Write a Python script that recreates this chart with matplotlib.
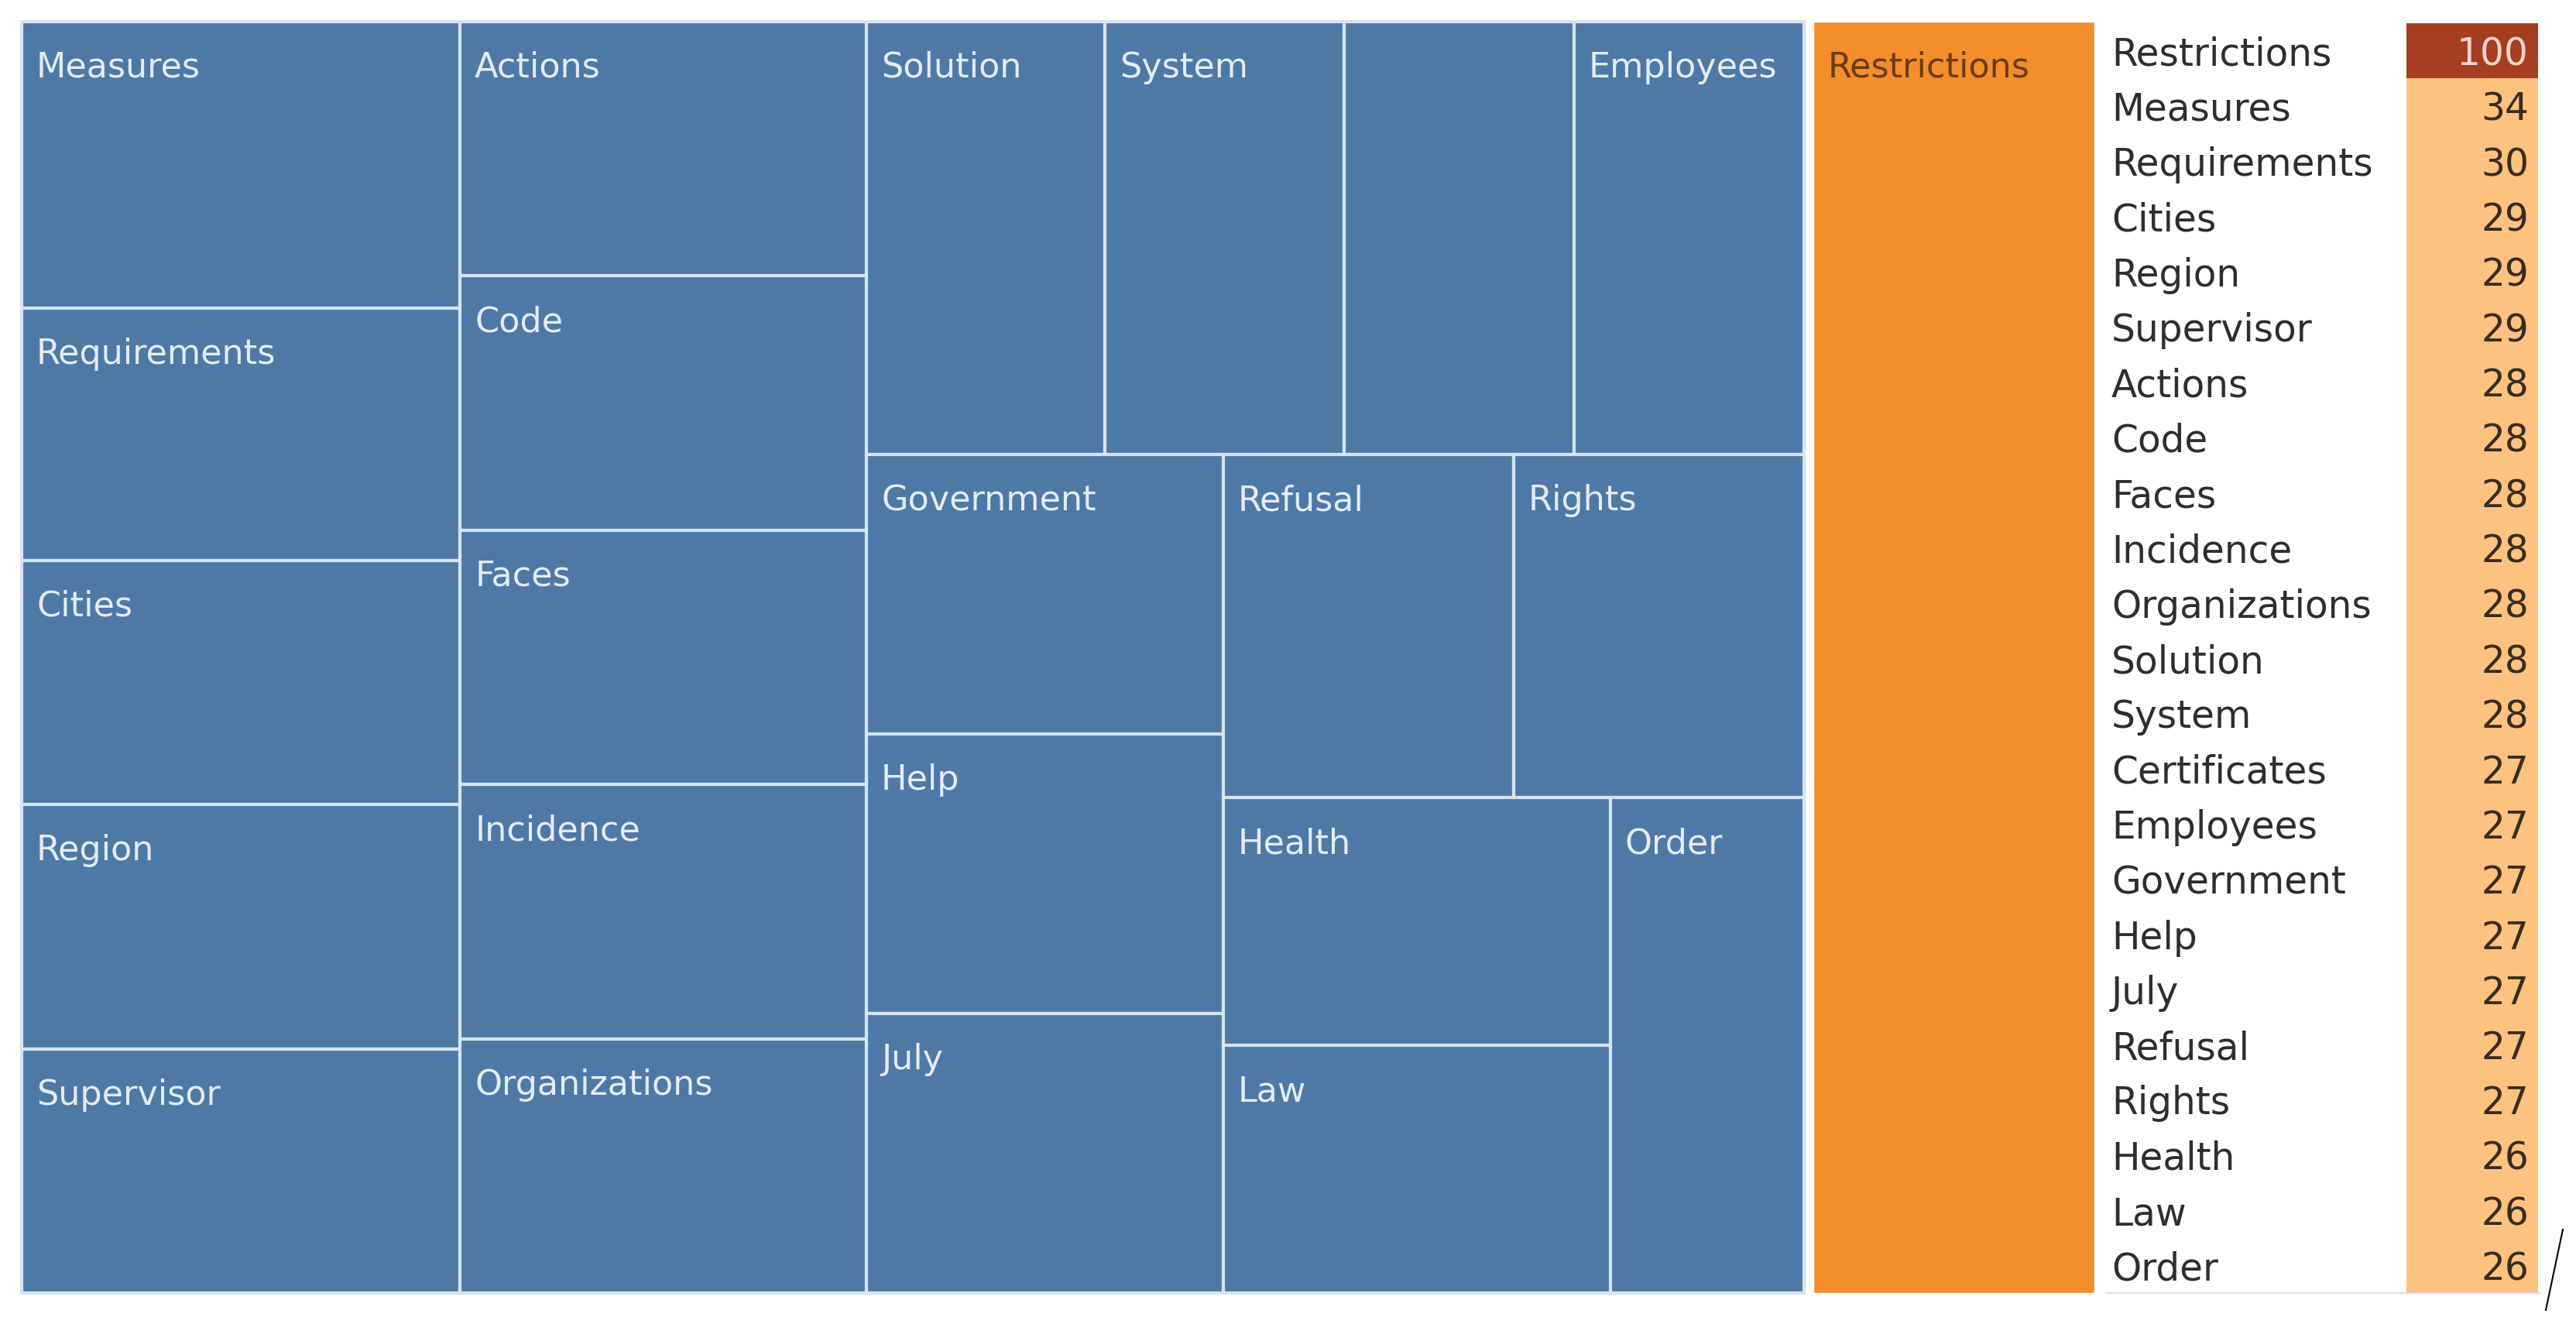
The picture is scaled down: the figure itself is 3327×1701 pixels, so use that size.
import matplotlib.pyplot as plt
from matplotlib.patches import Rectangle

# word counts, already sorted the way the table lists them
words = ["Restrictions", "Measures", "Requirements", "Cities", "Region", "Supervisor",
         "Actions", "Code", "Faces", "Incidence", "Organizations", "Solution", "System",
         "Certificates", "Employees", "Government", "Help", "July", "Refusal", "Rights",
         "Health", "Law", "Order"]
counts = [100, 34, 30, 29, 29, 29, 28, 28, 28, 28, 28, 28, 28, 27, 27, 27, 27, 27,
          27, 27, 26, 26, 26]
# how many words end up in each strip of the treemap
strip_sizes = [1, 5, 5, 4, 3, 2, 2, 1]
highlight = "Restrictions"

BLUE = "#4e79a7"
ORANGE = "#f28e2b"
LINE = "#d6e4f2"

W, H = 3327, 1701
fig = plt.figure(figsize=(W / 100, H / 100), dpi=100)
ax = fig.add_axes([0, 0, 1, 1])
ax.set_xlim(0, W)
ax.set_ylim(H, 0)
ax.axis("off")


def strip_layout(values, sizes, x, y, w, h):
    # columns when the free area is wide, rows when it is tall
    rects = []
    i = 0
    for k, n in enumerate(sizes):
        vals = values[i:i + n]
        frac = sum(vals) / sum(values[i:])
        if w >= h:
            cw = w * frac
            cx = x + w - cw if k == 0 else x
            cy = y
            for v in vals:
                ch = h * v / sum(vals)
                rects.append((cx, cy, cw, ch))
                cy += ch
            if k != 0:
                x += cw
            w -= cw
        else:
            ch = h * frac
            cx = x
            for v in vals:
                cw = w * v / sum(vals)
                rects.append((cx, y, cw, ch))
                cx += cw
            y += ch
            h -= ch
        i += n
    return rects


# treemap
rects = strip_layout(counts, strip_sizes, 28, 28, 2677, 1642)
renderer = fig.canvas.get_renderer()
for word, (x, y, w, h) in zip(words, rects):
    if word == highlight:
        ax.add_patch(Rectangle((x + 12, y), w - 12, h, facecolor=ORANGE,
                               edgecolor="white", linewidth=1))
        ax.text(x + 12 + 19, y + 71, word, color="#6e3a12", fontsize=32)
        continue
    ax.add_patch(Rectangle((x, y), w, h, facecolor=BLUE, edgecolor=LINE, linewidth=3))
    txt = ax.text(x + 19, y + 72, word, color="#e3ebf5", fontsize=32)
    # hide labels that do not fit in their box
    bb = txt.get_window_extent(renderer)
    if bb.width + 19 + 24 > w:
        txt.remove()

# table on the right
top, bottom = 30, 1670
row_h = (bottom - top) / len(words)
for i, (word, n) in enumerate(zip(words, counts)):
    y = top + i * row_h
    dark = word == highlight
    ax.add_patch(Rectangle((3108, y), 170, row_h + 0.5, linewidth=0,
                           facecolor="#a53d21" if dark else "#fdc27f"))
    ax.text(2727, y + row_h / 2, word, color="#2e2e2e", fontsize=35,
            va="center_baseline")
    ax.text(3266, y + row_h / 2, str(n), color="#f6d3c6" if dark else "#3a2c1c",
            fontsize=35, va="center_baseline", ha="right")
ax.plot([2720, 3280], [bottom, bottom], color="#dddddd", linewidth=1.5)
ax.plot([3288, 3310], [1692, 1588], color="black", linewidth=1.5)

fig.savefig("out.png", dpi=100, facecolor="white")
